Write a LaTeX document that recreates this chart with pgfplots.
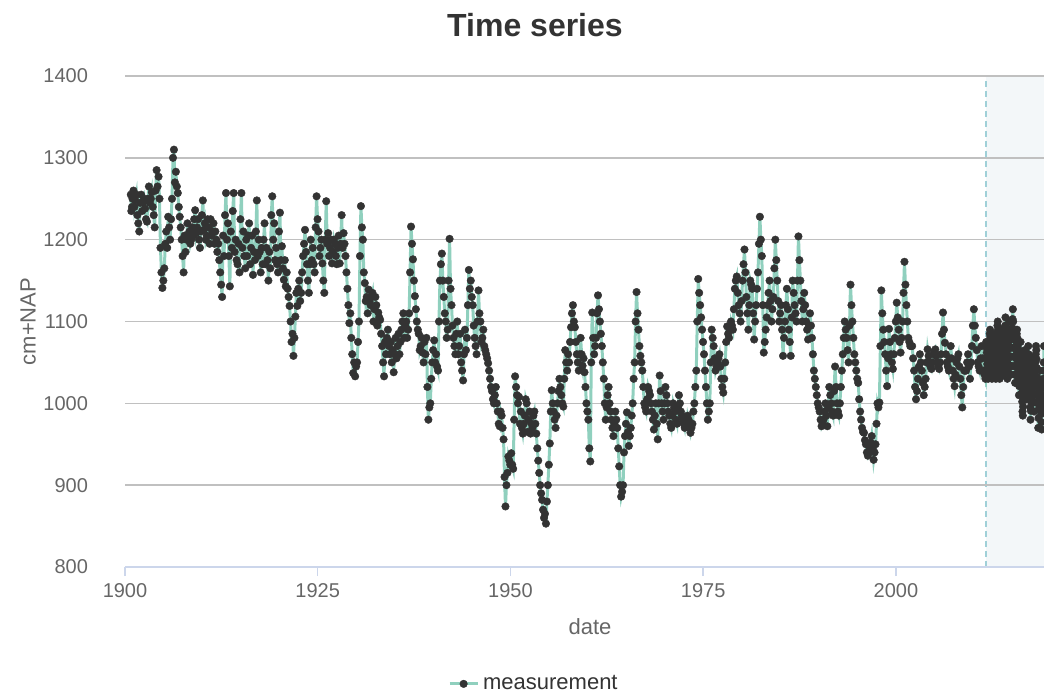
\documentclass[border=0pt]{standalone}
\usepackage{pgfplots}
\pgfplotsset{compat=1.18}
\usepackage{fontspec}
\setmainfont{Liberation Sans}
\definecolor{teal1}{RGB}{144,208,190}
\definecolor{dark}{RGB}{51,51,51}
\definecolor{gridc}{RGB}{192,192,192}
\definecolor{axisc}{RGB}{204,214,235}
\definecolor{labc}{RGB}{102,102,102}
\definecolor{shade}{RGB}{243,247,249}
\definecolor{dashc}{RGB}{160,208,216}
\pgfplotstableread{
x y
1900.75 1255
1900.82 1235
1900.9 1240
1900.97 1250
1901.1 1260
1901.225 1240
1901.35 1248
1901.475 1255
1901.6 1230
1901.725 1220
1901.85 1210
1901.975 1245
1902.1 1255
1902.225 1235
1902.35 1245
1902.475 1250
1902.6 1238
1902.725 1225
1902.85 1222
1902.975 1250
1903.1 1265
1903.225 1245
1903.35 1250
1903.475 1258
1903.6 1240
1903.725 1230
1903.85 1215
1903.975 1260
1904.1 1285
1904.225 1265
1904.35 1277
1904.475 1250
1904.6 1190
1904.725 1160
1904.85 1141
1904.975 1150
1905.1 1165
1905.225 1195
1905.35 1210
1905.475 1190
1905.6 1228
1905.725 1215
1905.85 1200
1905.975 1225
1906.1 1250
1906.225 1300
1906.35 1310
1906.475 1270
1906.6 1283
1906.725 1265
1906.85 1257
1906.975 1240
1907.1 1228
1907.225 1215
1907.35 1200
1907.475 1180
1907.6 1160
1907.725 1205
1907.85 1185
1907.975 1200
1908.1 1220
1908.225 1205
1908.35 1210
1908.475 1195
1908.6 1200
1908.725 1215
1908.85 1205
1908.975 1225
1909.1 1236
1909.225 1208
1909.35 1215
1909.475 1225
1909.6 1200
1909.725 1190
1909.85 1210
1909.975 1230
1910.1 1248
1910.225 1212
1910.35 1220
1910.475 1200
1910.6 1205
1910.725 1225
1910.85 1215
1910.975 1195
1911.1 1225
1911.225 1205
1911.35 1210
1911.475 1220
1911.6 1195
1911.725 1210
1911.85 1200
1911.975 1185
1912.1 1195
1912.225 1175
1912.35 1160
1912.475 1145
1912.6 1130
1912.725 1205
1912.85 1180
1912.975 1230
1913.1 1257
1913.225 1200
1913.35 1220
1913.475 1180
1913.6 1143
1913.725 1210
1913.85 1190
1913.975 1235
1914.1 1257
1914.225 1185
1914.35 1200
1914.475 1175
1914.6 1170
1914.725 1195
1914.85 1160
1914.975 1225
1915.1 1257
1915.225 1190
1915.35 1210
1915.475 1180
1915.6 1165
1915.725 1200
1915.85 1180
1915.975 1205
1916.1 1220
1916.225 1170
1916.35 1190
1916.475 1205
1916.6 1157
1916.725 1185
1916.85 1175
1916.975 1210
1917.1 1248
1917.225 1180
1917.35 1200
1917.475 1185
1917.6 1160
1917.725 1190
1917.85 1170
1917.975 1200
1918.1 1220
1918.225 1170
1918.35 1190
1918.475 1175
1918.6 1150
1918.725 1185
1918.85 1165
1918.975 1230
1919.1 1253
1919.225 1200
1919.35 1220
1919.475 1175
1919.6 1190
1919.725 1170
1919.85 1160
1919.975 1210
1920.1 1233
1920.225 1175
1920.35 1192
1920.475 1165
1920.6 1151
1920.725 1175
1920.85 1143
1920.975 1160
1921.1 1140
1921.225 1130
1921.35 1119
1921.475 1100
1921.6 1075
1921.725 1085
1921.85 1058
1921.975 1080
1922.1 1106
1922.225 1135
1922.35 1119
1922.475 1140
1922.6 1150
1922.725 1125
1922.85 1135
1922.975 1160
1923.1 1180
1923.225 1195
1923.35 1212
1923.475 1185
1923.6 1170
1923.725 1150
1923.85 1135
1923.975 1170
1924.1 1200
1924.225 1175
1924.35 1190
1924.475 1170
1924.6 1160
1924.725 1215
1924.85 1253
1924.975 1225
1925.1 1210
1925.225 1180
1925.35 1190
1925.475 1200
1925.6 1171
1925.725 1150
1925.85 1135
1925.975 1200
1926.1 1247
1926.225 1195
1926.35 1208
1926.475 1180
1926.6 1190
1926.725 1200
1926.85 1171
1926.975 1185
1927.1 1200
1927.225 1195
1927.35 1180
1927.475 1170
1927.6 1190
1927.725 1205
1927.85 1171
1927.975 1195
1928.1 1230
1928.225 1190
1928.35 1208
1928.475 1195
1928.6 1180
1928.725 1160
1928.85 1140
1928.975 1120
1929.1 1098
1929.225 1110
1929.35 1080
1929.475 1060
1929.6 1037
1929.725 1050
1929.85 1033
1929.975 1045
1930.1 1050
1930.225 1075
1930.35 1100
1930.475 1180
1930.6 1241
1930.725 1215
1930.85 1200
1930.975 1160
1931.1 1147
1931.225 1125
1931.35 1130
1931.475 1110
1931.6 1139
1931.725 1125
1931.85 1120
1931.975 1130
1932.1 1135
1932.225 1100
1932.35 1115
1932.475 1130
1932.6 1120
1932.725 1095
1932.85 1111
1932.975 1105
1933.1 1102
1933.225 1085
1933.35 1070
1933.475 1050
1933.6 1033
1933.725 1075
1933.85 1060
1933.975 1080
1934.1 1090
1934.225 1070
1934.35 1060
1934.475 1075
1934.6 1050
1934.725 1065
1934.85 1038
1934.975 1060
1935.1 1080
1935.225 1055
1935.35 1070
1935.475 1085
1935.6 1060
1935.725 1075
1935.85 1090
1935.975 1100
1936.1 1110
1936.225 1080
1936.35 1095
1936.475 1100
1936.6 1080
1936.725 1090
1936.85 1110
1936.975 1160
1937.1 1216
1937.225 1195
1937.35 1176
1937.475 1150
1937.6 1131
1937.725 1115
1937.85 1100
1937.975 1090
1938.1 1085
1938.225 1065
1938.35 1070
1938.475 1080
1938.6 1062
1938.725 1050
1938.85 1075
1938.975 1060
1939.1 1080
1939.225 1020
1939.35 980
1939.475 995
1939.6 1000
1939.725 1030
1939.85 1050
1939.975 1065
1940.1 1077
1940.225 1050
1940.35 1060
1940.475 1045
1940.6 1040
1940.725 1100
1940.85 1150
1940.975 1170
1941.1 1183
1941.225 1150
1941.35 1130
1941.475 1110
1941.6 1100
1941.725 1080
1941.85 1090
1941.975 1150
1942.1 1201
1942.225 1140
1942.35 1120
1942.475 1095
1942.6 1080
1942.725 1070
1942.85 1060
1942.975 1085
1943.1 1100
1943.225 1060
1943.35 1070
1943.475 1085
1943.6 1050
1943.725 1040
1943.85 1028
1943.975 1060
1944.1 1090
1944.225 1065
1944.35 1080
1944.475 1120
1944.6 1163
1944.725 1140
1944.85 1150
1944.975 1130
1945.1 1120
1945.225 1095
1945.35 1080
1945.475 1070
1945.6 1060
1945.725 1100
1945.85 1138
1945.975 1110
1946.1 1100
1946.225 1075
1946.35 1080
1946.475 1090
1946.6 1070
1946.725 1065
1946.85 1060
1946.975 1055
1947.1 1049
1947.225 1040
1947.35 1030
1947.475 1020
1947.6 1015
1947.725 1005
1947.85 1000
1947.975 1010
1948.1 1020
1948.225 1000
1948.35 990
1948.475 975
1948.6 972
1948.725 990
1948.85 985
1948.975 970
1949.1 956
1949.225 910
1949.35 874
1949.475 900
1949.6 915
1949.725 935
1949.85 930
1949.975 925
1950.1 939
1950.225 925
1950.35 920
1950.475 980
1950.6 1033
1950.725 1020
1950.85 1010
1950.975 1000
1951.1 1008
1951.225 975
1951.35 990
1951.475 970
1951.6 963
1951.725 975
1951.85 985
1951.975 1005
1952.1 1000
1952.225 965
1952.35 980
1952.475 990
1952.6 963
1952.725 975
1952.85 970
1952.975 985
1953.1 990
1953.225 975
1953.35 963
1953.475 945
1953.6 930
1953.725 915
1953.85 900
1953.975 890
1954.1 882
1954.225 870
1954.35 860
1954.475 865
1954.6 853
1954.725 880
1954.85 900
1954.975 925
1955.1 951
1955.225 990
1955.35 1016
1955.475 1000
1955.6 990
1955.725 980
1955.85 970
1955.975 985
1956.1 1000
1956.225 1015
1956.35 1030
1956.475 1020
1956.6 1010
1956.725 1000
1956.85 996
1956.975 1030
1957.1 1065
1957.225 1050
1957.35 1040
1957.475 1060
1957.6 1050
1957.725 1075
1957.85 1093
1957.975 1110
1958.1 1120
1958.225 1100
1958.35 1093
1958.475 1075
1958.6 1060
1958.725 1050
1958.85 1040
1958.975 1060
1959.1 1080
1959.225 1060
1959.35 1046
1959.475 1055
1959.6 1038
1959.725 1020
1959.85 1000
1959.975 990
1960.1 980
1960.225 945
1960.35 929
1960.475 1050
1960.6 1111
1960.725 1080
1960.85 1060
1960.975 1070
1961.1 1080
1961.225 1110
1961.35 1132
1961.475 1115
1961.6 1100
1961.725 1085
1961.85 1070
1961.975 1050
1962.1 1030
1962.225 1000
1962.35 980
1962.475 995
1962.6 1010
1962.725 1020
1962.85 1000
1962.975 990
1963.1 980
1963.225 970
1963.35 960
1963.475 975
1963.6 990
1963.725 980
1963.85 970
1963.975 945
1964.1 923
1964.225 900
1964.35 886
1964.475 892
1964.6 900
1964.725 940
1964.85 960
1964.975 975
1965.1 989
1965.225 965
1965.35 948
1965.475 960
1965.6 970
1965.725 985
1965.85 1000
1965.975 1030
1966.1 1050
1966.225 1100
1966.35 1136
1966.475 1110
1966.6 1090
1966.725 1070
1966.85 1058
1966.975 1050
1967.1 1040
1967.225 1020
1967.35 1000
1967.475 995
1967.6 990
1967.725 1005
1967.85 1020
1967.975 1015
1968.1 1010
1968.225 1000
1968.35 990
1968.475 980
1968.6 968
1968.725 985
1968.85 1000
1968.975 975
1969.1 956
1969.225 1000
1969.35 1034
1969.475 1015
1969.6 1000
1969.725 990
1969.85 980
1969.975 1000
1970.1 1020
1970.225 1010
1970.35 1000
1970.475 990
1970.6 985
1970.725 975
1970.85 970
1970.975 985
1971.1 1000
1971.225 995
1971.35 990
1971.475 980
1971.6 975
1971.725 995
1971.85 1010
1971.975 1000
1972.1 990
1972.225 985
1972.35 980
1972.475 975
1972.6 970
1972.725 980
1972.85 975
1972.975 985
1973.1 980
1973.225 970
1973.35 964
1973.475 970
1973.6 975
1973.725 990
1973.85 1000
1973.975 1020
1974.1 1040
1974.225 1100
1974.35 1152
1974.475 1135
1974.6 1120
1974.725 1105
1974.85 1090
1974.975 1075
1975.1 1060
1975.225 1040
1975.35 1020
1975.475 1000
1975.6 980
1975.725 990
1975.85 1000
1975.975 1050
1976.1 1090
1976.225 1080
1976.35 1070
1976.475 1055
1976.6 1040
1976.725 1045
1976.85 1050
1976.975 1055
1977.1 1060
1977.225 1045
1977.35 1030
1977.475 1020
1977.6 1013
1977.725 1030
1977.85 1050
1977.975 1075
1978.1 1094
1978.225 1085
1978.35 1080
1978.475 1090
1978.6 1100
1978.725 1095
1978.85 1090
1978.975 1115
1979.1 1140
1979.225 1150
1979.35 1155
1979.475 1135
1979.6 1120
1979.725 1110
1979.85 1100
1979.975 1125
1980.1 1150
1980.225 1170
1980.35 1188
1980.475 1160
1980.6 1130
1980.725 1110
1980.85 1090
1980.975 1120
1981.1 1150
1981.225 1145
1981.35 1140
1981.475 1110
1981.6 1078
1981.725 1100
1981.85 1120
1981.975 1140
1982.1 1160
1982.225 1195
1982.35 1228
1982.475 1200
1982.6 1180
1982.725 1120
1982.85 1062
1982.975 1075
1983.1 1090
1983.225 1105
1983.35 1120
1983.475 1135
1983.6 1150
1983.725 1125
1983.85 1100
1983.975 1115
1984.1 1130
1984.225 1165
1984.35 1200
1984.475 1175
1984.6 1150
1984.725 1125
1984.85 1100
1984.975 1110
1985.1 1120
1985.225 1090
1985.35 1058
1985.475 1080
1985.6 1100
1985.725 1120
1985.85 1140
1985.975 1115
1986.1 1090
1986.225 1075
1986.35 1058
1986.475 1105
1986.6 1150
1986.725 1135
1986.85 1120
1986.975 1110
1987.1 1100
1987.225 1150
1987.35 1204
1987.475 1175
1987.6 1150
1987.725 1125
1987.85 1100
1987.975 1115
1988.1 1135
1988.225 1120
1988.35 1100
1988.475 1090
1988.6 1078
1988.725 1095
1988.85 1110
1988.975 1095
1989.1 1080
1989.225 1060
1989.35 1040
1989.475 1030
1989.6 1020
1989.725 1010
1989.85 1000
1989.975 995
1990.1 990
1990.225 980
1990.35 972
1990.475 975
1990.6 980
1990.725 990
1990.85 1000
1990.975 985
1991.1 972
1991.225 995
1991.35 1020
1991.475 1010
1991.6 1000
1991.725 990
1991.85 985
1991.975 1015
1992.1 1045
1992.225 1020
1992.35 1000
1992.475 990
1992.6 985
1992.725 1000
1992.85 1020
1992.975 1040
1993.1 1060
1993.225 1080
1993.35 1100
1993.475 1090
1993.6 1080
1993.725 1065
1993.85 1050
1993.975 1095
1994.1 1145
1994.225 1120
1994.35 1100
1994.475 1080
1994.6 1060
1994.725 1050
1994.85 1040
1994.975 1030
1995.1 1025
1995.225 1005
1995.35 990
1995.475 980
1995.6 970
1995.725 965
1995.85 964
1995.975 955
1996.1 950
1996.225 940
1996.35 936
1996.475 940
1996.6 945
1996.725 952
1996.85 960
1996.975 945
1997.1 931
1997.225 940
1997.35 950
1997.475 975
1997.6 1000
1997.725 995
1997.85 1001
1997.975 1070
1998.1 1138
1998.225 1110
1998.35 1090
1998.475 1075
1998.6 1060
1998.725 1040
1998.85 1021
1998.975 1055
1999.1 1091
1999.225 1075
1999.35 1060
1999.475 1050
1999.6 1042
1999.725 1060
1999.85 1080
1999.975 1100
2000.1 1123
2000.225 1105
2000.35 1090
2000.475 1075
2000.6 1062
2000.725 1080
2000.85 1100
2000.975 1135
2001.1 1173
2001.225 1145
2001.35 1120
2001.475 1100
2001.6 1080
2001.725 1075
2001.85 1070
2001.975 1070
2002.1 1070
2002.225 1055
2002.35 1040
2002.475 1020
2002.6 1005
2002.725 1015
2002.85 1030
2002.975 1045
2003.1 1060
2003.225 1050
2003.35 1040
2003.475 1025
2003.6 1010
2003.725 1020
2003.85 1030
2003.975 1050
2004.1 1066
2004.225 1058
2004.35 1050
2004.475 1045
2004.6 1042
2004.725 1050
2004.85 1060
2004.975 1063
2005.1 1066
2005.225 1058
2005.35 1050
2005.475 1045
2005.6 1042
2005.725 1050
2005.85 1060
2005.975 1085
2006.1 1111
2006.225 1090
2006.35 1074
2006.475 1060
2006.6 1050
2006.725 1045
2006.85 1040
2006.975 1055
2007.1 1070
2007.225 1055
2007.35 1040
2007.475 1030
2007.6 1021
2007.725 1035
2007.85 1050
2007.975 1055
2008.1 1060
2008.225 1045
2008.35 1030
2008.475 1010
2008.6 995
2008.725 1020
2008.85 1040
2008.975 1040
2009.1 1040
2009.225 1050
2009.35 1060
2009.475 1045
2009.6 1030
2009.725 1050
2009.85 1070
2009.975 1095
2010.1 1115
2010.225 1095
2010.35 1080
2010.475 1065
2010.6 1050
2010.725 1045
2010.85 1040
2010.975 1055
2011.1 1070
2011.225 1055
2011.35 1040
2011.475 1035
2011.6 1030
2011.700 1075
2011.735 1068
2011.770 1062
2011.805 1055
2011.840 1048
2011.875 1042
2011.910 1035
2011.950 1030
2011.985 1039
2012.020 1048
2012.055 1058
2012.090 1067
2012.125 1076
2012.160 1085
2012.200 1090
2012.235 1081
2012.270 1072
2012.305 1062
2012.340 1053
2012.375 1044
2012.410 1035
2012.450 1030
2012.485 1038
2012.520 1047
2012.555 1055
2012.590 1063
2012.625 1072
2012.660 1080
2012.700 1085
2012.735 1077
2012.770 1068
2012.805 1060
2012.840 1052
2012.875 1043
2012.910 1035
2012.950 1030
2012.985 1041
2013.020 1052
2013.055 1062
2013.090 1073
2013.125 1084
2013.160 1095
2013.200 1100
2013.235 1090
2013.270 1080
2013.305 1070
2013.340 1060
2013.375 1050
2013.410 1040
2013.450 1030
2013.485 1039
2013.520 1048
2013.555 1058
2013.590 1067
2013.625 1076
2013.660 1085
2013.700 1090
2013.735 1081
2013.770 1072
2013.805 1062
2013.840 1053
2013.875 1044
2013.910 1035
2013.950 1035
2013.985 1045
2014.020 1055
2014.055 1065
2014.090 1075
2014.125 1085
2014.160 1095
2014.200 1105
2014.235 1094
2014.270 1083
2014.305 1073
2014.340 1062
2014.375 1051
2014.410 1040
2014.450 1030
2014.485 1039
2014.520 1048
2014.555 1058
2014.590 1067
2014.625 1076
2014.660 1085
2014.700 1100
2014.735 1089
2014.770 1078
2014.805 1068
2014.840 1057
2014.875 1046
2014.910 1035
2014.950 1045
2014.985 1057
2015.020 1068
2015.055 1080
2015.090 1092
2015.125 1103
2015.160 1115
2015.200 1100
2015.235 1089
2015.270 1078
2015.305 1068
2015.340 1057
2015.375 1046
2015.410 1035
2015.450 1025
2015.485 1035
2015.520 1045
2015.555 1055
2015.590 1065
2015.625 1075
2015.660 1085
2015.700 1090
2015.735 1080
2015.770 1070
2015.805 1060
2015.840 1050
2015.875 1040
2015.910 1030
2015.950 1010
2015.985 1021
2016.020 1032
2016.055 1042
2016.090 1053
2016.125 1064
2016.160 1075
2016.200 1060
2016.235 1048
2016.270 1037
2016.305 1025
2016.340 1013
2016.375 1002
2016.410 990
2016.450 985
2016.485 996
2016.520 1007
2016.555 1018
2016.590 1028
2016.625 1039
2016.660 1050
2016.700 1065
2016.735 1055
2016.770 1045
2016.805 1035
2016.840 1025
2016.875 1015
2016.910 1005
2016.950 1010
2016.985 1020
2017.020 1030
2017.055 1040
2017.090 1050
2017.125 1060
2017.160 1070
2017.200 1060
2017.235 1049
2017.270 1038
2017.305 1028
2017.340 1017
2017.375 1006
2017.410 995
2017.450 980
2017.485 991
2017.520 1002
2017.555 1012
2017.590 1023
2017.625 1034
2017.660 1045
2017.700 1055
2017.735 1044
2017.770 1033
2017.805 1022
2017.840 1012
2017.875 1001
2017.910 990
2017.950 1010
2017.985 1020
2018.020 1030
2018.055 1040
2018.090 1050
2018.125 1060
2018.160 1070
2018.200 1065
2018.235 1054
2018.270 1043
2018.305 1032
2018.340 1022
2018.375 1011
2018.410 1000
2018.450 970
2018.485 982
2018.520 993
2018.555 1005
2018.590 1017
2018.625 1028
2018.660 1040
2018.700 1025
2018.735 1016
2018.770 1006
2018.805 996
2018.840 987
2018.875 977
2018.910 968
2018.950 990
2018.985 1000
2019.020 1010
2019.055 1020
2019.090 1030
2019.125 1040
2019.160 1050
2019.200 1070
2019.235 1060
2019.270 1050
2019.305 1040
2019.340 1030
2019.375 1020
2019.410 1010
}\measurements
\begin{document}
\begin{tikzpicture}
\path[use as bounding box] (0,0) rectangle (522pt,346.5pt);
\begin{axis}[
 at={(62.5pt,63pt)}, anchor=south west,
 scale only axis, width=459.5pt, height=245.5pt,
 xmin=1900, xmax=2019.2, ymin=800, ymax=1400,
 hide axis,
]
\addplot[fill=shade, draw=none] coordinates {(2011.65,800) (2011.65,1400) (2019.2,1400) (2019.2,800)} -- cycle;
\addplot[dashc, line width=0.75pt, dash pattern=on 3pt off 2pt] coordinates {(2011.65,800) (2011.65,1400)};
\end{axis}
\begin{axis}[
 at={(62.5pt,63pt)}, anchor=south west,
 scale only axis, width=459.5pt, height=245.5pt,
 xmin=1900, xmax=2019.2, ymin=800, ymax=1400,
 xtick={1900,1925,1950,1975,2000}, ytick={800,900,...,1400},
 axis x line*=bottom, axis y line*=left,
 x axis line style={draw=axisc, line width=0.75pt},
 y axis line style={draw=none},
 ytick style={draw=none},
 xtick style={draw=axisc, line width=0.75pt},
 tick align=outside, major tick length=4.5pt,
 ymajorgrids, major grid style={gridc, line width=0.75pt},
 /pgf/number format/assume math mode=true,
 /pgf/number format/1000 sep={},
 tick label style={font=\fontsize{10}{12}\selectfont, text=labc},
 yticklabel style={xshift=-10.5pt},
 xlabel={date}, ylabel={cm+NAP},
 label style={font=\fontsize{11}{13}\selectfont, text=labc},
 xlabel style={at={(axis description cs:0.506,-0.122)}, anchor=center},
 ylabel style={at={(axis description cs:-0.1055,0.5)}, anchor=center},
 legend style={at={(axis description cs:0.446,-0.238)}, anchor=center, draw=none, fill=none, font=\fontsize{11}{13}\selectfont, text=dark},
 legend image code/.code={\draw[mark repeat=2,mark phase=2,#1] plot coordinates {(0pt,0pt)(7pt,0pt)(14pt,0pt)};},
]
\addplot[teal1, line width=1.5pt, mark=*, mark size=1.9pt, mark options={fill=dark, draw=dark, line width=0.2pt}] table {\measurements};
\addlegendentry{measurement}
\end{axis}
\node[font=\bfseries\fontsize{16}{19}\selectfont, text=dark] at (267.5pt,334pt) {Time series};
\end{tikzpicture}
\end{document}
